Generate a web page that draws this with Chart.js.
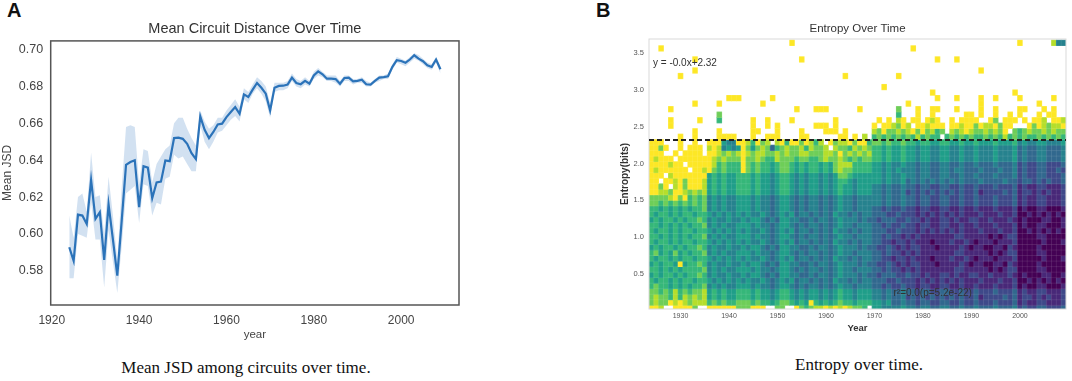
<!DOCTYPE html>
<html>
<head>
<meta charset="utf-8">
<script src="https://cdn.jsdelivr.net/npm/chart.js@4.4.0/dist/chart.umd.min.js"></script>
<style>
  body { margin: 0; background: #fff; width: 1072px; height: 381px; position: relative; overflow: hidden; font-family: 'Liberation Sans', Arial, sans-serif; }
  canvas { position: absolute; }
  #jsdChart { left: 0; top: 0; }
  #entropyChart { left: 600px; top: 0; }
  .panel { position: absolute; font-weight: bold; font-size: 20px; color: #111; }
  .caption { position: absolute; width: 400px; text-align: center; font-family: 'Liberation Serif', 'Times New Roman', serif; font-size: 17px; color: #111; }
</style>
</head>
<body>
<div class="panel" style="left:7px; top:-1px">A</div>
<div class="panel" style="left:596px; top:-1px">B</div>
<canvas id="jsdChart" width="470" height="345"></canvas>
<canvas id="entropyChart" width="472" height="340"></canvas>
<div class="caption" style="left:46px; top:358px">Mean JSD among circuits over time.</div>
<div class="caption" style="left:659px; top:355px">Entropy over time.</div>

<script>
// ---- panel A: mean JSD per year, with confidence band ----
const jsdYears = Array.from({length: 86}, (_, i) => 1924 + i);
const meanJsd = [
  0.5928, 0.5855, 0.6105, 0.6100, 0.6054, 0.6293, 0.6082, 0.6118, 0.5859, 0.6160,
  0.5970, 0.5774, 0.6070, 0.6375, 0.6390, 0.6400, 0.6145, 0.6368, 0.6360, 0.6194,
  0.6280, 0.6284, 0.6399, 0.6395, 0.6520, 0.6522, 0.6516, 0.6489, 0.6438, 0.6406,
  0.6638, 0.6565, 0.6520, 0.6553, 0.6594, 0.6598, 0.6634, 0.6661, 0.6688, 0.6652,
  0.6757, 0.6743, 0.6783, 0.6819, 0.6793, 0.6761, 0.6670, 0.6793, 0.6803, 0.6804,
  0.6810, 0.6848, 0.6819, 0.6812, 0.6830, 0.6815, 0.6860, 0.6882, 0.6866, 0.6842,
  0.6842, 0.6840, 0.6815, 0.6846, 0.6848, 0.6828, 0.6830, 0.6837, 0.6812, 0.6810,
  0.6830, 0.6848, 0.6851, 0.6855, 0.6906, 0.6942, 0.6938, 0.6929, 0.6946, 0.6969,
  0.6951, 0.6937, 0.6915, 0.6906, 0.6946, 0.6893
];
const jsdLow = [
  0.576, 0.576, 0.600, 0.599, 0.598, 0.617, 0.597, 0.597, 0.571, 0.602,
  0.585, 0.568, 0.593, 0.622, 0.624, 0.626, 0.606, 0.627, 0.626, 0.610,
  0.617, 0.616, 0.630, 0.631, 0.643, 0.641, 0.642, 0.638, 0.634, 0.634,
  0.659, 0.650, 0.646, 0.650, 0.655, 0.656, 0.659, 0.662, 0.664, 0.661,
  0.673, 0.671, 0.676, 0.679, 0.676, 0.672, 0.663, 0.677, 0.678, 0.678,
  0.679, 0.683, 0.680, 0.679, 0.681, 0.680, 0.684, 0.686, 0.685, 0.683,
  0.683, 0.682, 0.680, 0.683, 0.683, 0.681, 0.682, 0.682, 0.680, 0.680,
  0.682, 0.683, 0.684, 0.684, 0.689, 0.693, 0.692, 0.691, 0.693, 0.695,
  0.694, 0.692, 0.690, 0.689, 0.693, 0.687
];
const jsdHigh = [
  0.610, 0.598, 0.620, 0.622, 0.612, 0.644, 0.620, 0.621, 0.600, 0.631,
  0.610, 0.586, 0.625, 0.658, 0.659, 0.658, 0.627, 0.646, 0.645, 0.628,
  0.638, 0.642, 0.646, 0.648, 0.660, 0.663, 0.663, 0.657, 0.652, 0.648,
  0.667, 0.661, 0.657, 0.659, 0.663, 0.663, 0.667, 0.670, 0.673, 0.669,
  0.679, 0.677, 0.681, 0.685, 0.683, 0.680, 0.671, 0.682, 0.682, 0.682,
  0.683, 0.687, 0.684, 0.683, 0.685, 0.683, 0.688, 0.690, 0.688, 0.686,
  0.686, 0.686, 0.683, 0.686, 0.686, 0.684, 0.684, 0.685, 0.683, 0.682,
  0.684, 0.686, 0.686, 0.687, 0.692, 0.696, 0.695, 0.694, 0.696, 0.698,
  0.697, 0.695, 0.693, 0.692, 0.696, 0.691
];
const jsdTicks = [0.58, 0.60, 0.62, 0.64, 0.66, 0.68, 0.70];
const yearTicks = [1920, 1940, 1960, 1980, 2000];

// ---- panel B: entropy heatmap ----
const entropyYears = Array.from({length: 86}, (_, i) => 1924 + i);
const entropyTicks = [0.5, 1.0, 1.5, 2.0, 2.5, 3.0, 3.5];
const entropyBinWidth = 0.075;
const fitIntercept = 2.32;
const viridis = ['#440154', '#482878', '#3e4989', '#31688e', '#26828e',
                 '#1f9e89', '#35b779', '#6ece58', '#b5de2b', '#fde725'];
// one string per entropy bin, top bin (3.600-3.675) first, bottom bin (0-0.075) last.
// one char per year 1924..2009 (groups of ten split by spaces), '.' = empty cell, 0-9 = colour level
const heatRows = [
  ".......... .......... .........9 .......... .......... .......... .......... ......9... ...844",
  "..9....... .......... .......... .......... .......... ....9..... .......... .......... ......",
  ".......... .......... .......... .......... .......... .......... .......... .......... ......",
  ".........9 .......... .......... .9........ .......... .........9 ...9...... .......... ......",
  ".......... .......... .......... .......... .......... .......... .......... .......... ......",
  ".........9 .......... .......... .......... .......... .......... ........9. .......... ......",
  "......9... .......... .......... .......... 9......... .9........ .......... .......... ......",
  ".......... .......... .......... .......... .......... .......... .......... .......... ......",
  ".......... .......... .......... .......... ........9. .......... .......... .......... ......",
  ".......... .......... .......... .......... .......... ........9. .......... .....9.... ......",
  ".......... ......999. .....9.... .......... .......... .........9 ...9....9. .9....9... ...9..",
  ".........9 ....9..... ...9...... .......... .......... ...9...... ........9. .......... 9.....",
  "....9..... .......... .......... 9...999... ...9...... .7...9..99 ...9....9. .9....99.. .9.9..",
  ".......... ....7..... .......... .......... .......... .6...9..9. .....99.9. .9..9.9... 9.99..",
  "....9..... 9...6..... .9..9....9 ........9. .......9.9 .89.99.989 ..9.9999.. 97.999.9.9 98.998",
  "....9..... .......... .9..9.9... ....999.9. ......9.99 8798.99899 9.99899798 89799...97 987889",
  ".........9 ....9..... .99...9... .9....999. 9.....8797 7878979786 7.87898778 7879.76787 787877",
  "......9..9 ....9999.. .9..999... .99......9 9.9.8.6767 6767686766 .676767667 6768676766 767676",
  "999...9..9 ..99954499 86978.8969 979868.978 8979967767 6676656655 6655655655 5655564544 554445",
  "9979..9.99 9.89845459 7578736787 7868778.87 7687876656 5565545544 5544544544 4544453433 443334",
  "999..9.999 9.99878789 8788778787 7887778879 7878786656 5565545544 5544544544 4544453433 443334",
  "98999.9999 9998787779 7787668777 6776678778 7676776656 5565545544 5544544544 4544453433 443334",
  "9999899.99 9998676669 7676656776 5656656578 8866665545 4454434433 4433433433 3433342322 332223",
  "98999999.9 9897676669 7676656776 5656656578 7766665545 4544434433 4434433343 3343342322 332232",
  "999.899999 9956565566 6565545665 4545545457 7655555545 4454434433 4433433433 3433342322 332223",
  "99.9989799 9856565566 6565545665 4545545456 6545555545 4453434343 4343433343 3334332332 323223",
  "9979.89799 9856565566 6565545665 4545545456 5545554434 3343323322 3322322322 2322231211 221112",
  "9988799878 7856565566 6565545665 4545545456 5545554434 3342323232 3232322312 2223231221 212112",
  "7777897967 6745454455 5454434554 3434434345 4434444434 3343323322 3322322322 2322231211 221112",
  "7767676767 6745454455 5454434554 3434434345 4434444434 3343323322 3322322322 2322231211 221112",
  "6656565656 6745454455 5454434554 3434434345 4434443323 2232212211 2211211211 1211120100 110001",
  "6566565665 6654545454 5445434545 3443434354 4343443332 2322212121 2121211121 1121120010 101010",
  "5656656566 7645445445 4554343554 4334344345 4443433233 3223221211 2212112211 2111210100 011001",
  "6656565656 6745454455 5454434554 3434434345 4434443323 2232212211 2211211211 1211120100 110001",
  "6566565665 6654545454 5445434545 3443434354 4343443332 2322212121 2121211121 1121120010 101010",
  "6656565656 6745454455 5454434554 3434434345 4434443323 2212121111 1112211111 0101220000 110000",
  "6566565665 6654545454 5445434545 3443434354 4343443322 1221211101 1121121011 1011120000 010001",
  "5656656566 7645445445 4554343554 4334344345 4443433223 2121221110 1111210110 0110210000 100000",
  "6756575656 6745454455 5454434554 3434434345 4434443323 2212121111 1112211111 0101220000 110000",
  "6566565665 6654545454 5445434545 3443434354 4343443322 1221211101 1121121011 1011120000 010001",
  "5656659566 7645445445 4554343554 4334344345 4443433223 2121221110 1111210110 0110210000 100000",
  "6656565666 6745454455 5454434554 3434434345 4434443323 2212121111 1112211111 0101220000 110000",
  "5656656566 7645445445 4554343554 4334344345 4443433233 3223221211 2212112211 2111210100 011001",
  "6566565665 6654545454 5445434545 3443434354 4343443332 2322212121 2121211121 1121120010 101010",
  "6766565656 6745454455 5454434554 3434434345 4434443323 2232212211 2211211211 1211120100 110001",
  "7767686767 7856565566 6565545665 4545545456 5545554434 3343323322 3322322322 2322231211 221112",
  "7877686878 7856565566 6565545665 4545545456 5545554434 3342323232 3232322312 2223231221 212112",
  "7877989878 8867676677 7676656776 5659656567 6656665545 3343323322 3322322322 2322231211 221112",
  "998..99997 ..99999977 7999..77.. 9767889898 98776.5544 4454434433 4433433433 3433342322 332223"
];

Chart.defaults.font.family = "'Liberation Sans', Arial, sans-serif";

// draws the box round the plot area
const framePlugin = {
  id: 'frame',
  afterDatasetsDraw(chart, args, opts) {
    const {ctx, chartArea: a} = chart;
    ctx.save();
    ctx.strokeStyle = opts.color;
    ctx.lineWidth = opts.width;
    ctx.strokeRect(a.left, a.top, a.right - a.left, a.bottom - a.top);
    ctx.restore();
  }
};

// faint light lines between heatmap cells, placed through the scales
const cellGridPlugin = {
  id: 'cellGrid',
  afterDatasetsDraw(chart) {
    const {ctx, chartArea: a, scales: {x, y}} = chart;
    ctx.save();
    ctx.strokeStyle = 'rgba(255,255,255,0.16)';
    ctx.lineWidth = 0.6;
    ctx.beginPath();
    for (let i = 0; i <= entropyYears.length; i++) {
      const px = x.getPixelForValue(i - 0.5);
      ctx.moveTo(px, a.top);
      ctx.lineTo(px, a.bottom);
    }
    for (let k = 0; k <= heatRows.length; k++) {
      const py = y.getPixelForValue(k * entropyBinWidth);
      if (py < a.top || py > a.bottom) continue;
      ctx.moveTo(a.left, py);
      ctx.lineTo(a.right, py);
    }
    ctx.stroke();
    ctx.restore();
  }
};

// dashed regression line plus the two fit labels on the heatmap
const fitPlugin = {
  id: 'fitLine',
  afterDatasetsDraw(chart) {
    const {ctx, chartArea: a, scales: {x, y}} = chart;
    const py = y.getPixelForValue(fitIntercept);
    ctx.save();
    ctx.setLineDash([5, 3]);
    ctx.strokeStyle = '#222';
    ctx.lineWidth = 2;
    ctx.beginPath();
    ctx.moveTo(a.left, py);
    ctx.lineTo(a.right, py);
    ctx.stroke();
    ctx.setLineDash([]);
    ctx.fillStyle = '#333';
    ctx.font = "10px 'Liberation Sans', Arial, sans-serif";
    ctx.textBaseline = 'middle';
    ctx.textAlign = 'left';
    ctx.fillText('y = -0.0x+2.32', a.left + 4, y.getPixelForValue(3.36));
    ctx.textAlign = 'center';
    ctx.fillText('r\u00b2=0.0(p=5.2e-22)', x.getPixelForValue(58), y.getPixelForValue(0.24));
    ctx.restore();
  }
};

function initJsdChart(canvas) {
  const lowPts = jsdYears.map((yr, i) => ({x: yr, y: jsdLow[i]}));
  const highPts = jsdYears.map((yr, i) => ({x: yr, y: jsdHigh[i]}));
  const meanPts = jsdYears.map((yr, i) => ({x: yr, y: meanJsd[i]}));

  return new Chart(canvas, {
    type: 'line',
    data: {
      datasets: [
        {data: lowPts, borderWidth: 0, pointRadius: 0, fill: false, tension: 0},
        {data: highPts, borderWidth: 0, pointRadius: 0, fill: '-1', backgroundColor: 'rgba(49,120,190,0.22)', tension: 0},
        {data: meanPts, borderColor: '#2a72b8', borderWidth: 2.2, pointRadius: 0, fill: false, tension: 0}
      ]
    },
    options: {
      responsive: false,
      animation: false,
      devicePixelRatio: 1,
      layout: {padding: {left: 0, right: 11, top: 0, bottom: 0}},
      plugins: {
        legend: {display: false},
        tooltip: {enabled: false},
        title: {
          display: true, text: 'Mean Circuit Distance Over Time', fullSize: false,
          color: '#333', font: {size: 14.5, weight: 'normal'}, padding: {top: 20, bottom: 3.5}
        },
        frame: {color: '#555', width: 1.5}
      },
      scales: {
        x: {
          type: 'linear', min: 1919.75, max: 2013.25,
          grid: {display: false, drawTicks: false}, border: {display: false},
          afterBuildTicks: (s) => { s.ticks = yearTicks.map((v) => ({value: v})); },
          afterFit: (s) => { s.height = 40; },
          ticks: {padding: 8, color: '#444', font: {size: 12}, callback: (v) => String(v)},
          title: {display: true, text: 'year', color: '#444', font: {size: 11.5}, padding: {top: 0, bottom: 3}}
        },
        y: {
          type: 'linear', min: 0.5615, max: 0.7047,
          grid: {display: false, drawTicks: false}, border: {display: false},
          afterBuildTicks: (s) => { s.ticks = jsdTicks.map((v) => ({value: v})); },
          afterFit: (s) => { s.width = 50.7; },
          ticks: {padding: 7.5, color: '#444', font: {size: 12.5}, callback: (v) => v.toFixed(2)},
          title: {display: true, text: 'Mean JSD', color: '#444', font: {size: 12}, padding: {top: 0, bottom: 0}}
        }
      }
    },
    plugins: [framePlugin]
  });
}

function buildHeatDatasets() {
  const nRows = heatRows.length;
  return heatRows.map((row, idx) => {
    const bin = nRows - 1 - idx;
    const cells = row.replace(/ /g, '');
    if (cells.length !== entropyYears.length) console.log('row', idx, 'has', cells.length, 'cells');
    const low = bin * entropyBinWidth;
    const high = (bin + 1) * entropyBinWidth;
    const filled = entropyYears.map((yr, i) => cells[i] !== undefined && cells[i] !== '.');
    return {
      data: filled.map((f) => (f ? [low, high] : null)),
      backgroundColor: filled.map((f, i) => (f ? viridis[Number(cells[i])] : 'rgba(0,0,0,0)')),
      borderWidth: 0,
      inflateAmount: 0.35,
      grouped: false,
      barPercentage: 1,
      categoryPercentage: 1
    };
  });
}

function initEntropyChart(canvas) {
  return new Chart(canvas, {
    type: 'bar',
    data: {
      labels: entropyYears.map(String),
      datasets: buildHeatDatasets()
    },
    options: {
      responsive: false,
      animation: false,
      devicePixelRatio: 1,
      layout: {padding: {left: 0, right: 6, top: 0, bottom: 0}},
      plugins: {
        legend: {display: false},
        tooltip: {enabled: false},
        title: {
          display: true, text: 'Entropy Over Time', fullSize: false,
          color: '#333', font: {size: 11.5, weight: 'normal'}, padding: {top: 22, bottom: 3.2}
        },
        frame: {color: '#d9d9d9', width: 1}
      },
      scales: {
        x: {
          type: 'category', offset: true,
          grid: {display: false, drawTicks: false}, border: {display: false},
          afterFit: (s) => { s.height = 31; },
          ticks: {
            autoSkip: false, maxRotation: 0, padding: 3, color: '#555', font: {size: 7},
            callback: (v, i) => (entropyYears[i] % 10 === 0 ? String(entropyYears[i]) : '')
          },
          title: {display: true, text: 'Year', color: '#333', font: {size: 9.5, weight: 'bold'}, padding: {top: 0, bottom: 6}}
        },
        y: {
          type: 'linear', min: 0.025, max: 3.69,
          grid: {display: false, drawTicks: false}, border: {display: false},
          afterBuildTicks: (s) => { s.ticks = entropyTicks.map((v) => ({value: v})); },
          afterFit: (s) => { s.width = 49; },
          ticks: {padding: 5, color: '#555', font: {size: 7.5}, callback: (v) => v.toFixed(1)},
          title: {display: true, text: 'Entropy(bits)', color: '#333', font: {size: 10, weight: 'bold'}, padding: {top: 19, bottom: 0}}
        }
      }
    },
    plugins: [cellGridPlugin, framePlugin, fitPlugin]
  });
}

function mainEvent() {
  const jsdChart = initJsdChart(document.querySelector('#jsdChart'));
  const entropyChart = initEntropyChart(document.querySelector('#entropyChart'));
  console.log(jsdChart.chartArea, entropyChart.chartArea);
}

document.addEventListener('DOMContentLoaded', () => mainEvent());
</script>
</body>
</html>
